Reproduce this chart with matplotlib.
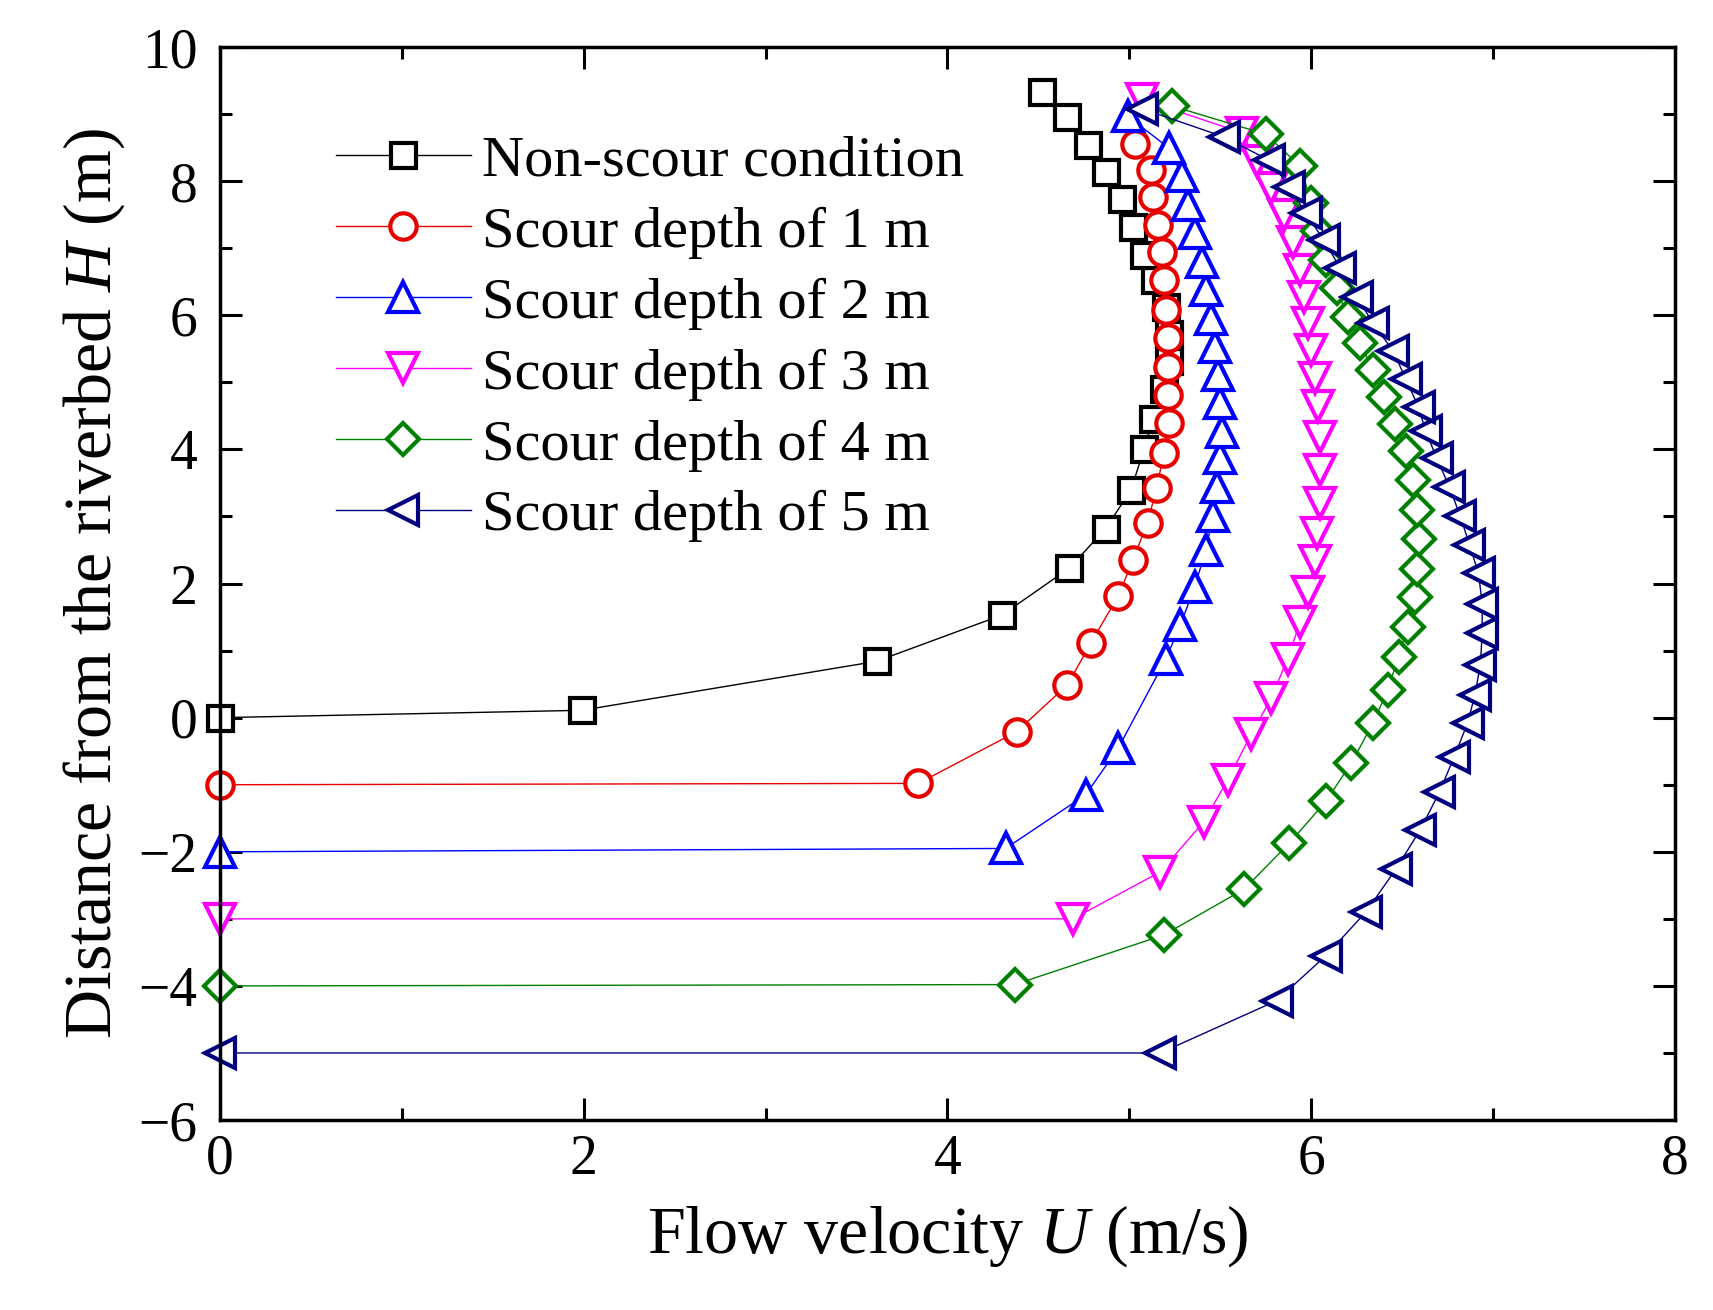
import matplotlib
matplotlib.use("Agg")
import matplotlib.pyplot as plt
from matplotlib.ticker import MultipleLocator

plt.rcParams['font.family'] = ['Liberation Serif', 'DejaVu Serif']
plt.rcParams['mathtext.fontset'] = 'custom'
plt.rcParams['mathtext.rm'] = 'Liberation Serif'
plt.rcParams['mathtext.it'] = 'Liberation Serif:italic'

# flow velocity U (m/s) and height H (m) for each case
black_u = [0, 1.99, 3.61, 4.30, 4.67, 4.87, 5.01, 5.08, 5.13, 5.19, 5.22, 5.22, 5.20, 5.14, 5.08, 5.02, 4.96, 4.87, 4.77, 4.66, 4.52]
black_h = [0, 0.11, 0.84, 1.53, 2.23, 2.82, 3.40, 4.00, 4.45, 4.90, 5.32, 5.72, 6.12, 6.53, 6.90, 7.32, 7.74, 8.14, 8.54, 8.96, 9.33]

red_u = [0, 3.84, 4.38, 4.66, 4.79, 4.94, 5.02, 5.10, 5.15, 5.19, 5.22, 5.21, 5.21, 5.21, 5.20, 5.19, 5.18, 5.16, 5.13, 5.12, 5.03]
red_h = [-1, -0.98, -0.21, 0.49, 1.12, 1.82, 2.35, 2.91, 3.42, 3.95, 4.39, 4.81, 5.23, 5.66, 6.08, 6.53, 6.95, 7.35, 7.77, 8.17, 8.56]

blue_u = [0, 4.32, 4.76, 4.94, 5.20, 5.28, 5.36, 5.42, 5.46, 5.48, 5.50, 5.51, 5.50, 5.49, 5.47, 5.45, 5.42, 5.40, 5.36, 5.32, 5.29, 5.22, 4.99]
blue_h = [-2, -1.95, -1.15, -0.45, 0.87, 1.38, 1.95, 2.50, 3.00, 3.44, 3.87, 4.26, 4.69, 5.11, 5.53, 5.95, 6.38, 6.80, 7.22, 7.64, 8.07, 8.49, 8.97]

mag_u = [0, 4.69, 5.17, 5.41, 5.54, 5.67, 5.78, 5.87, 5.94, 5.98, 6.02, 6.03, 6.05, 6.05, 6.05, 6.04, 6.02, 6.00, 5.98, 5.96, 5.94, 5.90, 5.85, 5.78, 5.70, 5.62, 5.07]
mag_h = [-3, -3.0, -2.30, -1.55, -0.93, -0.25, 0.29, 0.88, 1.43, 1.87, 2.33, 2.76, 3.20, 3.70, 4.19, 4.64, 5.06, 5.48, 5.88, 6.28, 6.67, 7.10, 7.50, 7.90, 8.30, 8.72, 9.22]

green_u = [0, 4.37, 5.19, 5.63, 5.88, 6.08, 6.22, 6.34, 6.42, 6.48, 6.53, 6.57, 6.58, 6.59, 6.58, 6.56, 6.52, 6.46, 6.40, 6.34, 6.27, 6.20, 6.14, 6.08, 6.04, 6.00, 5.94, 5.75, 5.235]
green_h = [-4, -3.98, -3.24, -2.56, -1.87, -1.25, -0.68, -0.08, 0.41, 0.91, 1.35, 1.80, 2.21, 2.66, 3.10, 3.55, 3.98, 4.38, 4.78, 5.18, 5.58, 5.98, 6.40, 6.82, 7.25, 7.68, 8.22, 8.70, 9.12]

navy_u = [0, 5.17, 5.81, 6.08, 6.30, 6.465, 6.60, 6.705, 6.785, 6.86, 6.90, 6.93, 6.94, 6.94, 6.92, 6.87, 6.82, 6.76, 6.69, 6.63, 6.59, 6.52, 6.45, 6.34, 6.25, 6.16, 6.07, 5.97, 5.88, 5.77, 5.52, 5.07]
navy_h = [-5, -5.0, -4.22, -3.55, -2.90, -2.26, -1.67, -1.11, -0.59, -0.08, 0.34, 0.79, 1.26, 1.70, 2.15, 2.58, 3.00, 3.44, 3.87, 4.27, 4.63, 5.05, 5.47, 5.88, 6.28, 6.70, 7.12, 7.52, 7.92, 8.31, 8.66, 9.08]

labels = ["Non-scour condition", "Scour depth of 1 m", "Scour depth of 2 m",
          "Scour depth of 3 m", "Scour depth of 4 m", "Scour depth of 5 m"]

series = [
    (black_u, black_h, 'black', 's', 18),
    (red_u, red_h, '#e60000', 'o', 19),
    (blue_u, blue_h, '#0000ff', '^', 21),
    (mag_u, mag_h, '#ff00ff', 'v', 21),
    (green_u, green_h, '#008000', 'D', 16),
    (navy_u, navy_h, '#000080', '<', 21),
]

fig = plt.figure(figsize=(17.13, 13.10), dpi=100)
ax = fig.add_axes([0.1284, 0.1450, 0.8494, 0.8191])

for (u, h, c, m, ms), lab in zip(series, labels):
    ax.plot(u, h, color=c, lw=1.0, marker=m, ms=ms, mew=3.0,
            mfc='white', mec=c, label=lab, clip_on=False)

ax.set_xlim(0, 8)
ax.set_ylim(-6, 10)
ax.xaxis.set_major_locator(MultipleLocator(2))
ax.xaxis.set_minor_locator(MultipleLocator(1))
ax.yaxis.set_major_locator(MultipleLocator(2))
ax.yaxis.set_minor_locator(MultipleLocator(1))
ax.tick_params(which='both', direction='in', top=True, right=True, width=2.2)
ax.tick_params(which='major', length=16, labelsize=40)
ax.tick_params(axis='y', which='major', pad=16)
ax.tick_params(axis='x', which='major', pad=10)
ax.tick_params(which='minor', length=8.5)
for sp in ax.spines.values():
    sp.set_linewidth(2.5)

ax.set_xlabel(r"Flow velocity $U$ (m/s)", fontsize=49, labelpad=12)
ax.set_ylabel(r"Distance from the riverbed $H$ (m)", fontsize=49, labelpad=8)

ax.legend(loc='upper left', bbox_to_anchor=(0.08, 0.918), frameon=False,
          fontsize=42, handlelength=2.3, handletextpad=0.2, labelspacing=0.31,
          borderpad=0, borderaxespad=0)

fig.savefig("out.png", dpi=100)
